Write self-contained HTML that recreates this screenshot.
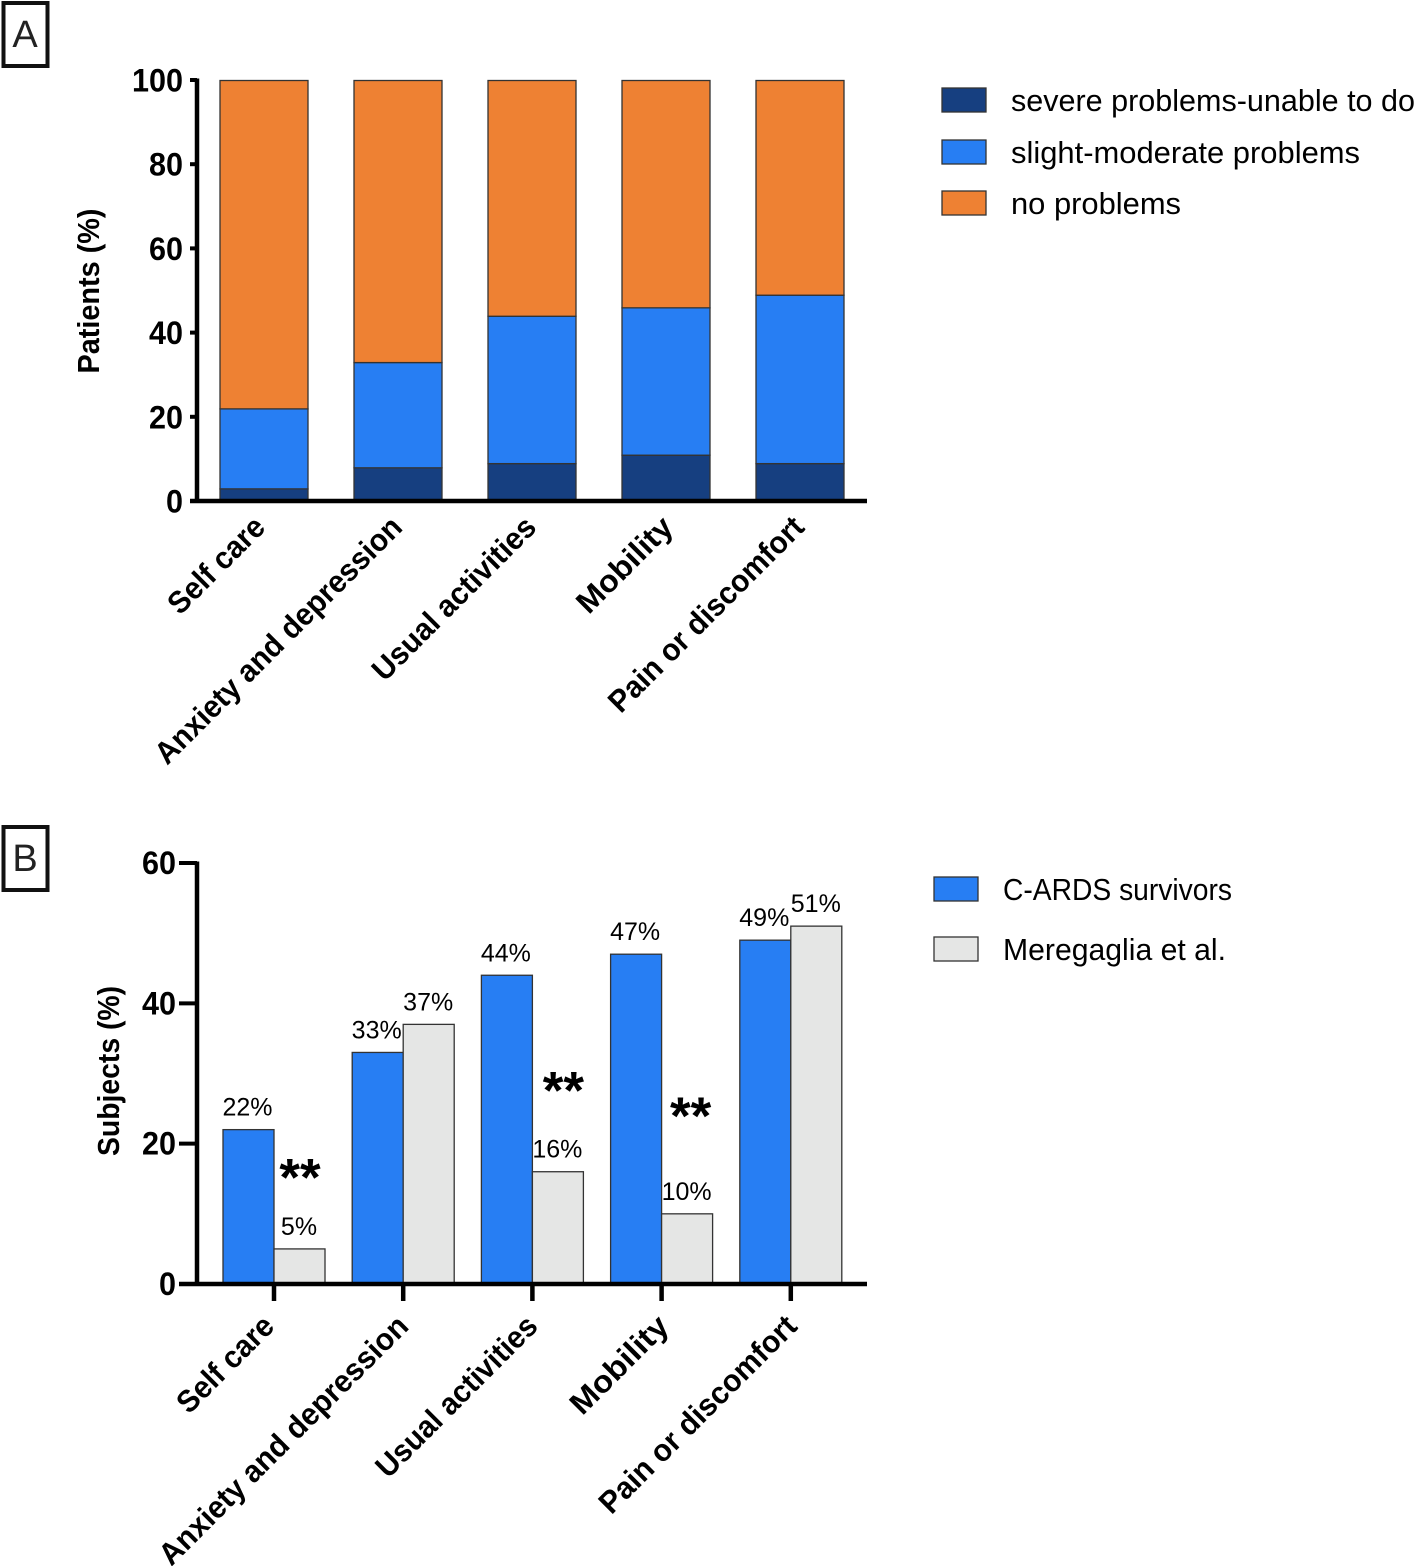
<!DOCTYPE html>
<html lang="en">
<head>
<meta charset="utf-8">
<title>Patient-reported problems by health dimension</title>
<style>
html,body{margin:0;padding:0;background:#fff;}
svg{display:block;}
text{font-family:"Liberation Sans",sans-serif;fill:#000;}
.tick{font-size:32px;font-weight:bold;text-anchor:end;}
.axis-title{font-size:31px;font-weight:bold;text-anchor:middle;}
.cat{font-size:31px;font-weight:bold;text-anchor:end;}
.legend{font-size:31px;}
.val{font-size:25px;text-anchor:middle;}
.star{font-size:53px;font-weight:bold;text-anchor:middle;}
.panel{font-size:38px;text-anchor:middle;fill:#222;}
</style>
</head>
<body>
<svg id="figure" xmlns="http://www.w3.org/2000/svg" width="1416" height="1566" viewBox="0 0 1416 1566">
  <rect width="1416" height="1566" fill="#fff"/>
  <g>
    <rect x="3.500" y="3" width="44" height="63" fill="#fff" stroke="#111" stroke-width="4"/>
    <text class="panel" x="25" y="47">A</text>
  </g>
  <g>
    <rect x="3.500" y="827" width="44" height="63" fill="#fff" stroke="#111" stroke-width="4"/>
    <text class="panel" x="25" y="871">B</text>
  </g>
  <g id="chart-a"></g>
  <g id="chart-b"></g>
</svg>
<script>
const categories = ["Self care", "Anxiety and depression", "Usual activities", "Mobility", "Pain or discomfort"];
const severeValues = [3, 8, 9, 11, 9];
const slightValues = [19, 25, 35, 35, 40];
const noProblemValues = [78, 67, 56, 54, 51];
const ticksA = [0, 20, 40, 60, 80, 100];
const survivorValues = [22, 33, 44, 47, 49];
const meregagliaValues = [5, 37, 16, 10, 51];
const ticksB = [0, 20, 40, 60];
const starLevels = [16.3, null, 28.7, 25.1, null];
const starLabels = ["**", "", "**", "**", ""];

const NS = "http://www.w3.org/2000/svg";
const INK = "#333";
function make(parent, tag, attrs, txt) {
  const el = document.createElementNS(NS, tag);
  for (const k in attrs) el.setAttribute(k, attrs[k]);
  if (txt !== undefined) el.textContent = txt;
  parent.appendChild(el);
  return el;
}

/* ---------- Chart A ---------- */
const gA = document.getElementById("chart-a");
const yA = v => 501.5 - v * 4.21;
const xA = i => 220 + i * 134;
const widthA = 88;
const stackA = [
  { name: "severe", values: severeValues, color: "#163f80" },
  { name: "slight", values: slightValues, color: "#277ef3" },
  { name: "none", values: noProblemValues, color: "#ee8133" }
];
stackA.forEach(s => {
  categories.forEach((c, i) => {
    let base = 0;
    for (const t of stackA) {
      if (t === s) break;
      base += t.values[i];
    }
    const r = make(gA, "rect", {
      x: xA(i), y: yA(base + s.values[i]), width: widthA,
      height: yA(base) - yA(base + s.values[i]),
      fill: s.color, stroke: INK, "stroke-width": 1.3
    });
    
    
  });
});
const axisAY = make(gA, "line", { x1: 197, x2: 197, y1: 78.500, y2: 503, stroke: "#000", "stroke-width": 4.500 });


const axisAX = make(gA, "line", { x1: 190, x2: 867, y1: 501, y2: 501, stroke: "#000", "stroke-width": 4.500 });


ticksA.forEach(t => {
  const m = make(gA, "line", { x1: 190, x2: 197, y1: yA(t) - 0.5, y2: yA(t) - 0.5, stroke: "#000", "stroke-width": 4 });
  
  
  const l = make(gA, "text", { class: "tick", x: 183, y: yA(t) + 11, textLength: String(t).length * 17, lengthAdjust: "spacingAndGlyphs" }, t);
  
  
});
const titleA = make(gA, "text", { class: "axis-title", transform: "translate(99 291) rotate(-90)", textLength: 165, lengthAdjust: "spacingAndGlyphs" }, "Patients (%)");


const catLengthA = [123, 335, 217, 122, 262];
const catOffsetA = [47, 50, 50, 53, 50];
categories.forEach((c, i) => {
  const x = xA(i) + catOffsetA[i], y = 529;
  const l = make(gA, "text", { class: "cat", transform: `translate(${x} ${y}) rotate(-45)`, textLength: catLengthA[i], lengthAdjust: "spacingAndGlyphs" }, c);
  
  
});
const legendA = [
  { label: "severe problems-unable to do", color: "#163f80", len: 404, y: 100 },
  { label: "slight-moderate problems", color: "#277ef3", len: 349, y: 152 },
  { label: "no problems", color: "#ee8133", len: 170, y: 203 }
];
legendA.forEach(e => {
  const sw = make(gA, "rect", { x: 942, y: e.y - 12, width: 44, height: 24, fill: e.color, stroke: INK, "stroke-width": 1.3 });
  
  
  const t = make(gA, "text", { class: "legend", x: 1011, y: e.y + 11, textLength: e.len, lengthAdjust: "spacingAndGlyphs" }, e.label);
  
  
});

/* ---------- Chart B ---------- */
const gB = document.getElementById("chart-b");
const yB = v => 1284 - v * 7.017;
const xB = i => 274 + i * 129.2;
const widthB = 51;
const starOffsets = [26, 0, 31, 29, 0];
categories.forEach((c, i) => {
  const a = make(gB, "rect", { x: xB(i) - widthB, y: yB(survivorValues[i]), width: widthB, height: yB(0) - yB(survivorValues[i]), fill: "#277ef3", stroke: INK, "stroke-width": 1.3 });
  
  
  const b = make(gB, "rect", { x: xB(i), y: yB(meregagliaValues[i]), width: widthB, height: yB(0) - yB(meregagliaValues[i]), fill: "#e5e6e5", stroke: INK, "stroke-width": 1.3 });
  
  
  const la = make(gB, "text", { class: "val", x: xB(i) - widthB / 2 - 1, y: yB(survivorValues[i]) - 14 }, survivorValues[i] + "%");
  
  
  const lb = make(gB, "text", { class: "val", x: xB(i) + widthB / 2 - 0.5, y: yB(meregagliaValues[i]) - 14 }, meregagliaValues[i] + "%");
  
  
  if (starLevels[i] !== null) {
    const s = make(gB, "text", { class: "star", x: xB(i) + starOffsets[i], y: yB(starLevels[i]) + 26 }, starLabels[i]);
    
    
  }
  const tk = make(gB, "line", { x1: xB(i), x2: xB(i), y1: yB(0), y2: 1301, stroke: "#000", "stroke-width": 4.500 });
  
  
});
const axisBY = make(gB, "line", { x1: 197, x2: 197, y1: 861.500, y2: 1286, stroke: "#000", "stroke-width": 4.500 });


const axisBX = make(gB, "line", { x1: 179, x2: 867, y1: yB(0), y2: yB(0), stroke: "#000", "stroke-width": 4.500 });


ticksB.forEach(t => {
  const m = make(gB, "line", { x1: 179, x2: 197, y1: yB(t), y2: yB(t), stroke: "#000", "stroke-width": 4 });
  
  
  const l = make(gB, "text", { class: "tick", x: 176, y: yB(t) + 11, textLength: String(t).length * 17, lengthAdjust: "spacingAndGlyphs" }, t);
  
  
});
const titleB = make(gB, "text", { class: "axis-title", transform: "translate(119 1071) rotate(-90)", textLength: 170, lengthAdjust: "spacingAndGlyphs" }, "Subjects (%)");


const catLengthB = [123, 338, 214, 125, 265];
const catOffsetB = [2, 7, 7, 9, 8];
categories.forEach((c, i) => {
  const x = xB(i) + catOffsetB[i], y = 1328;
  const l = make(gB, "text", { class: "cat", transform: `translate(${x} ${y}) rotate(-45)`, textLength: catLengthB[i], lengthAdjust: "spacingAndGlyphs" }, c);
  
  
});
const legendB = [
  { label: "C-ARDS survivors", color: "#277ef3", len: 229, y: 889 },
  { label: "Meregaglia et al.", color: "#e5e6e5", len: 223, y: 949 }
];
legendB.forEach(e => {
  const sw = make(gB, "rect", { x: 934, y: e.y - 12, width: 44, height: 24, fill: e.color, stroke: INK, "stroke-width": 1.3 });
  
  
  const t = make(gB, "text", { class: "legend", x: 1003, y: e.y + 11, textLength: e.len, lengthAdjust: "spacingAndGlyphs" }, e.label);
  
  
});
</script>
</body>
</html>
